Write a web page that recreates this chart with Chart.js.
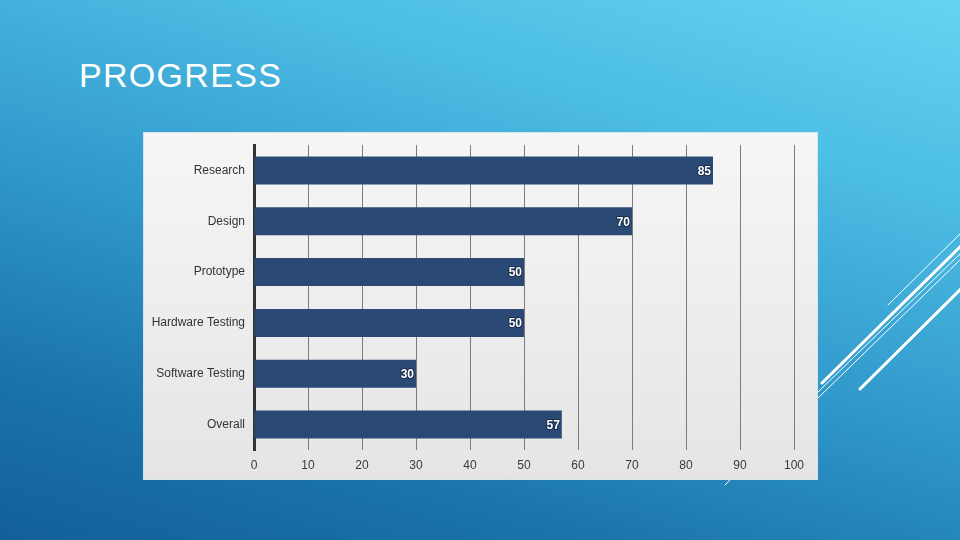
<!DOCTYPE html>
<html>
<head>
<meta charset="utf-8">
<script src="https://cdn.jsdelivr.net/npm/chart.js@4/dist/chart.umd.min.js"></script>
<style>
  html, body { margin: 0; padding: 0; }
  body {
    width: 960px; height: 540px; overflow: hidden; position: relative;
    background: linear-gradient(196deg, #63d4f0 0%, #4cbde4 25%, #2f96c9 55%, #1a73ab 80%, #135f9b 100%);
    font-family: "Liberation Sans", Arial, sans-serif;
  }
  #title {
    position: absolute; left: 79px; top: 56px;
    color: #ffffff; font-size: 34px; letter-spacing: 1.3px;
  }
  #panel {
    position: absolute; left: 144px; top: 133px; width: 673px; height: 346px;
    background: linear-gradient(to bottom, #f6f6f6, #e5e5e5);
    box-shadow: 0 0 0 1px #d6e4ec;
  }
  #deco { position: absolute; left: 0; top: 0; }
</style>
</head>
<body>
<div id="title">PROGRESS</div>
<svg id="deco" width="960" height="540">
  <g stroke="#ffffff" stroke-linecap="round">
    <line x1="822" y1="383" x2="962" y2="245" stroke-width="3"/>
    <line x1="888" y1="305" x2="962" y2="232" stroke-width="1"/>
    <line x1="817" y1="393" x2="962" y2="252" stroke-width="1"/>
    <line x1="817" y1="399" x2="962" y2="258" stroke-width="1"/>
    <line x1="860" y1="389" x2="962" y2="288" stroke-width="3"/>
    <line x1="725" y1="485" x2="733" y2="477" stroke-width="1"/>
  </g>
</svg>
<div id="panel"><canvas id="progressChart"></canvas></div>
<script>
// data
var categories = ['Research', 'Design', 'Prototype', 'Hardware Testing', 'Software Testing', 'Overall'];
var progress = [85, 70, 50, 50, 30, 57];
var xTicks = [0, 10, 20, 30, 40, 50, 60, 70, 80, 90, 100];

// value labels at the end of each bar
var barLabels = {
    id: 'barLabels',
    afterDatasetsDraw: function(chart) {
        var ctx = chart.ctx;
        var meta = chart.getDatasetMeta(0);
        ctx.save();
        ctx.font = 'bold 12px "Liberation Sans", Arial, sans-serif';
        ctx.textAlign = 'right';
        ctx.textBaseline = 'middle';
        ctx.lineWidth = 2;
        ctx.strokeStyle = '#1a2f4d';
        ctx.fillStyle = '#ffffff';
        meta.data.forEach(function(bar, i) {
            var txt = String(chart.data.datasets[0].data[i]);
            ctx.strokeText(txt, bar.x - 2, bar.y + 1);
            ctx.fillText(txt, bar.x - 2, bar.y + 1);
        });
        ctx.restore();
    }
};

var ctx = document.getElementById('progressChart').getContext('2d');
var progressChart = new Chart(ctx, {
    type: 'bar',
    data: {
        labels: categories,
        datasets: [{
            data: progress,
            backgroundColor: '#2a4a75',
            borderWidth: 0,
            barPercentage: 0.55,
            categoryPercentage: 1.0
        }]
    },
    options: {
        indexAxis: 'y',
        responsive: true,
        maintainAspectRatio: false,
        animation: false,
        layout: { padding: { left: 0, right: 23, top: 12, bottom: 0 } },
        plugins: {
            legend: { display: false },
            tooltip: { enabled: false }
        },
        scales: {
            x: {
                min: 0,
                max: 100,
                afterBuildTicks: function(scale) {
                    scale.ticks = xTicks.map(function(v) { return { value: v }; });
                },
                afterFit: function(scale) { scale.height = 29; },
                grid: { color: '#7c7c7c', lineWidth: 1, drawTicks: false },
                border: { display: false },
                ticks: {
                    padding: 8,
                    color: '#3a3a3a',
                    font: { family: '"Liberation Sans", Arial, sans-serif', size: 12 },
                    maxRotation: 0
                }
            },
            y: {
                afterFit: function(scale) {
                    scale.width = 110;
                    scale.paddingTop = 0;
                    scale.paddingBottom = 0;
                },
                grid: { display: false, drawTicks: false },
                border: { display: true, color: '#333333', width: 3 },
                ticks: {
                    padding: 9,
                    color: '#333333',
                    font: { family: '"Liberation Sans", Arial, sans-serif', size: 12 }
                }
            }
        }
    },
    plugins: [barLabels]
});
</script>
</body>
</html>
